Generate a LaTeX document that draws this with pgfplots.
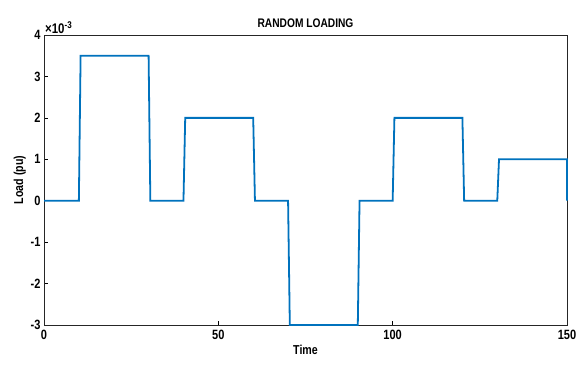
\documentclass[border=0pt]{standalone}
\usepackage{fontspec}
\setmainfont{Liberation Sans}[FakeStretch=0.82]
\usepackage{pgfplots}
\pgfplotsset{compat=1.18}
\definecolor{mblue}{RGB}{0,114,189}
\begin{document}
\begin{tikzpicture}
\useasboundingbox (-44bp,-51bp) rectangle (533bp,325bp);
\begin{axis}[
  scale only axis,
  width=523bp, height=290bp,
  xmin=0, xmax=150, ymin=-0.003, ymax=0.004,
  xtick={0,50,100,150},
  ytick={-0.003,-0.002,-0.001,0,0.001,0.002,0.003,0.004},
  scaled y ticks=base 10:3,
  ytick scale label code/.code={\bfseries\fontsize{14}{15}\selectfont ×10\textsuperscript{-3}},
  every y tick scale label/.style={at={(rel axis cs:0,1)},anchor=south west,inner sep=1pt,yshift=0pt},
  /pgf/number format/assume math mode=true,
  ticklabel style={font=\bfseries\fontsize{13.5}{14}\selectfont},
  xticklabel style={yshift=-2pt},
  tick align=inside,
  major tick length=4bp,
  tick style={black,line width=0.5pt},
  axis line style={black!85,line width=0.8pt},
  xtick pos=bottom, ytick pos=left,
  title={\bfseries RANDOM LOADING},
  title style={font=\bfseries\fontsize{12.5}{13}\selectfont,yshift=-2pt},
  xlabel={\bfseries Time},
  ylabel={\bfseries Load (pu)},
  label style={font=\bfseries\fontsize{13}{14}\selectfont},
  xlabel style={yshift=2pt},
  ylabel style={yshift=-2pt},
  clip=false,
]
\addplot[mblue, line width=1.8pt, line join=miter] coordinates {
(0,0) (10,0) (10.5,0.0035) (30,0.0035) (30.5,0) (40,0) (40.5,0.002) (60,0.002) (60.5,0)
(70,0) (70.5,-0.003) (90,-0.003) (90.5,0) (100,0) (100.5,0.002) (120,0.002) (120.5,0)
(130,0) (130.5,0.001) (150,0.001) (150,0)
};
\end{axis}
\end{tikzpicture}
\end{document}
